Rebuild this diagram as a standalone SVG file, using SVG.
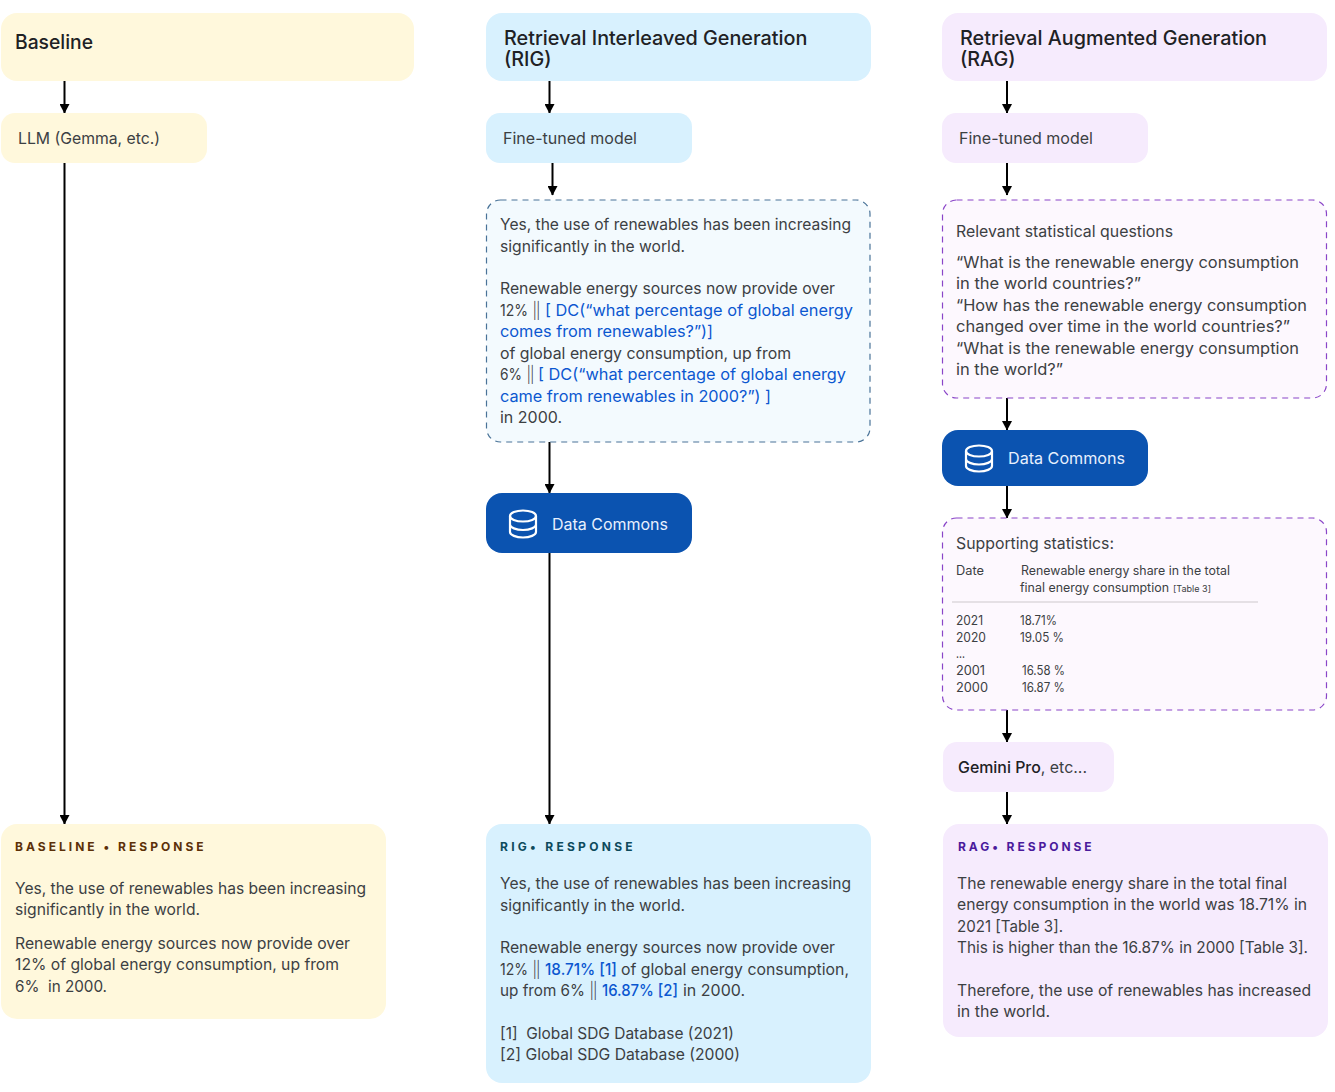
<svg xmlns="http://www.w3.org/2000/svg" width="1335" height="1092" viewBox="0 0 1335 1092">
<style>
text{font-family:"Inter","Noto Sans",sans-serif;fill:#3c4043;font-size:16px}
.h{font-size:19.800px;fill:#202124;font-weight:500}
.b{fill:#0b57d0}
.bb{fill:#0b57d0;font-weight:500}
.w{fill:#e8f0fe}
.s{font-size:12.500px}
.t{font-size:8.500px}
.lab{font-size:12px;font-weight:700;letter-spacing:3.400px}
.y{fill:#fff8dc}.c{fill:#d8f1fe}.p{fill:#f6ebfd}.d{fill:#0b53b0}
.line{stroke:#000;stroke-width:2;fill:none;marker-end:url(#a)}
.ic{fill:none;stroke:#fff;stroke-width:2.200}
</style>
<defs><marker id="a" markerUnits="userSpaceOnUse" markerWidth="10" markerHeight="10" refX="9" refY="5" orient="auto"><path d="M0 0L9.500 5L0 10Z" fill="#000"/></marker></defs>
<rect width="1335" height="1092" fill="#fff"/>
<g id="connectors">
<path class="line" d="M64.500 81V113"/>
<path class="line" d="M64.500 163V824"/>
<path class="line" d="M549.500 81V113"/>
<path class="line" d="M552.500 163V195"/>
<path class="line" d="M549.500 442V493"/>
<path class="line" d="M549.500 553V824"/>
<path class="line" d="M1007 81V113"/>
<path class="line" d="M1007 163V195"/>
<path class="line" d="M1007 398V430"/>
<path class="line" d="M1007 486V518"/>
<path class="line" d="M1007 710V742"/>
<path class="line" d="M1007 792V824"/>
</g>
<g id="baseline-header"><rect class="y" x="1" y="13" width="413" height="68" rx="16"/><text class="h" x="15" y="49" textLength="78" lengthAdjust="spacingAndGlyphs">Baseline</text></g>
<g id="baseline-llm"><rect class="y" x="1" y="113" width="206" height="50" rx="14"/><text x="18" y="144" textLength="142" lengthAdjust="spacingAndGlyphs">LLM (Gemma, etc.)</text></g>
<g id="baseline-response"><rect class="y" x="1" y="824" width="385" height="195" rx="16"/>
<text class="lab" x="15" y="851" style="fill:#5c3008" textLength="192">BASELINE • RESPONSE</text>
<text x="15" y="894" textLength="351" lengthAdjust="spacingAndGlyphs">Yes, the use of renewables has been increasing</text>
<text x="15" y="915" textLength="185" lengthAdjust="spacingAndGlyphs">significantly in the world.</text>
<text x="15" y="949" textLength="335" lengthAdjust="spacingAndGlyphs">Renewable energy sources now provide over</text>
<text x="15" y="970" textLength="324" lengthAdjust="spacingAndGlyphs">12% of global energy consumption, up from</text>
<text x="15" y="992" textLength="92" lengthAdjust="spacingAndGlyphs" xml:space="preserve">6%  in 2000.</text>
</g>
<g id="rig-header"><rect class="c" x="486" y="13" width="385" height="68" rx="16"/><text class="h"><tspan x="504" y="45">Retrieval Interleaved Generation</tspan><tspan x="504" y="66">(RIG)</tspan></text></g>
<g id="rig-model"><rect class="c" x="486" y="113" width="206" height="50" rx="14"/><text x="503" y="144" textLength="134" lengthAdjust="spacingAndGlyphs">Fine-tuned model</text></g>
<g id="rig-draft"><rect x="486.500" y="200" width="383.500" height="242" rx="14" fill="#f3fafe" stroke="#4a7398" stroke-width="1.200" stroke-dasharray="6 5"/>
<text x="500" y="230" textLength="351" lengthAdjust="spacingAndGlyphs">Yes, the use of renewables has been increasing</text>
<text x="500" y="252" textLength="185" lengthAdjust="spacingAndGlyphs">significantly in the world.</text>
<text x="500" y="294" textLength="335" lengthAdjust="spacingAndGlyphs">Renewable energy sources now provide over</text>
<text x="500" y="316" textLength="28" lengthAdjust="spacingAndGlyphs">12%</text><text x="533" y="316" textLength="7" lengthAdjust="spacingAndGlyphs">||</text><text class="b" x="545" y="316" textLength="308" lengthAdjust="spacingAndGlyphs">[ DC(“what percentage of global energy</text>
<text class="b" x="500" y="337" textLength="213" lengthAdjust="spacingAndGlyphs">comes from renewables?”)]</text>
<text x="500" y="359" textLength="291" lengthAdjust="spacingAndGlyphs">of global energy consumption, up from</text>
<text x="500" y="380" textLength="22" lengthAdjust="spacingAndGlyphs">6%</text><text x="527" y="380" textLength="7" lengthAdjust="spacingAndGlyphs">||</text><text class="b" x="538" y="380" textLength="308" lengthAdjust="spacingAndGlyphs">[ DC(“what percentage of global energy</text>
<text class="b" x="500" y="402" textLength="271" lengthAdjust="spacingAndGlyphs">came from renewables in 2000?”) ]</text>
<text x="500" y="423" textLength="62" lengthAdjust="spacingAndGlyphs">in 2000.</text>
</g>
<g id="rig-datacommons"><rect class="d" x="486" y="493" width="206" height="60" rx="16"/>
<g class="ic"><ellipse cx="523" cy="516" rx="13" ry="5.500"/><path d="M510 516V532C510 535 516 537.500 523 537.500S536 535 536 532V516M510 524.500C510 527.500 516 530 523 530S536 527.500 536 524.500"/></g>
<text class="w" x="552" y="530" textLength="116" lengthAdjust="spacingAndGlyphs">Data Commons</text></g>
<g id="rig-response"><rect class="c" x="486" y="824" width="385" height="259" rx="16"/>
<text class="lab" x="500" y="851" style="fill:#0d4a5c" textLength="136">RIG• RESPONSE</text>
<text x="500" y="889" textLength="351" lengthAdjust="spacingAndGlyphs">Yes, the use of renewables has been increasing</text>
<text x="500" y="911" textLength="185" lengthAdjust="spacingAndGlyphs">significantly in the world.</text>
<text x="500" y="953" textLength="335" lengthAdjust="spacingAndGlyphs">Renewable energy sources now provide over</text>
<text x="500" y="975" textLength="28" lengthAdjust="spacingAndGlyphs">12%</text><text x="533" y="975" textLength="7" lengthAdjust="spacingAndGlyphs">||</text><text class="bb" x="545" y="975" textLength="72" lengthAdjust="spacingAndGlyphs">18.71% [1]</text><text x="621" y="975" textLength="228" lengthAdjust="spacingAndGlyphs">of global energy consumption,</text>
<text x="500" y="996" textLength="85" lengthAdjust="spacingAndGlyphs">up from 6%</text><text x="590" y="996" textLength="7" lengthAdjust="spacingAndGlyphs">||</text><text class="bb" x="602" y="996" textLength="76" lengthAdjust="spacingAndGlyphs">16.87% [2]</text><text x="683" y="996" textLength="62" lengthAdjust="spacingAndGlyphs">in 2000.</text>
<text x="500" y="1039" textLength="234" lengthAdjust="spacingAndGlyphs" xml:space="preserve">[1]  Global SDG Database (2021)</text>
<text x="500" y="1060" textLength="240" lengthAdjust="spacingAndGlyphs">[2] Global SDG Database (2000)</text>
</g>
<g id="rag-header"><rect class="p" x="942" y="13" width="385" height="68" rx="16"/><text class="h"><tspan x="960" y="45">Retrieval Augmented Generation</tspan><tspan x="960" y="66">(RAG)</tspan></text></g>
<g id="rag-model"><rect class="p" x="942" y="113" width="206" height="50" rx="14"/><text x="959" y="144" textLength="134" lengthAdjust="spacingAndGlyphs">Fine-tuned model</text></g>
<g id="rag-questions"><rect x="942.500" y="200" width="384" height="198" rx="14" fill="#fdf8fe" stroke="#8a45c8" stroke-width="1.200" stroke-dasharray="6 5"/>
<text x="956" y="237" textLength="217" lengthAdjust="spacingAndGlyphs">Relevant statistical questions</text>
<text x="956" y="268" textLength="343" lengthAdjust="spacingAndGlyphs">“What is the renewable energy consumption</text>
<text x="956" y="289" textLength="185" lengthAdjust="spacingAndGlyphs">in the world countries?”</text>
<text x="956" y="311" textLength="351" lengthAdjust="spacingAndGlyphs">“How has the renewable energy consumption</text>
<text x="956" y="332" textLength="334" lengthAdjust="spacingAndGlyphs">changed over time in the world countries?”</text>
<text x="956" y="354" textLength="343" lengthAdjust="spacingAndGlyphs">“What is the renewable energy consumption</text>
<text x="956" y="375" textLength="107" lengthAdjust="spacingAndGlyphs">in the world?”</text>
</g>
<g id="rag-datacommons"><rect class="d" x="942" y="430" width="206" height="56" rx="16"/>
<g class="ic"><ellipse cx="979" cy="451" rx="13" ry="5.500"/><path d="M966 451V466C966 469 972 471.500 979 471.500S992 469 992 466V451M966 459C966 462 972 464.500 979 464.500S992 462 992 459"/></g>
<text class="w" x="1008" y="464" textLength="117" lengthAdjust="spacingAndGlyphs">Data Commons</text></g>
<g id="rag-statistics"><rect x="942.500" y="518" width="384" height="192" rx="14" fill="#fdf8fe" stroke="#8a45c8" stroke-width="1.200" stroke-dasharray="6 5"/>
<text x="956" y="549" textLength="158" lengthAdjust="spacingAndGlyphs">Supporting statistics:</text>
<text class="s" x="956" y="575" textLength="28" lengthAdjust="spacingAndGlyphs">Date</text>
<text class="s" x="1021" y="575" textLength="209" lengthAdjust="spacingAndGlyphs">Renewable energy share in the total</text>
<text class="s" x="1020" y="592" textLength="149" lengthAdjust="spacingAndGlyphs">final energy consumption</text><text class="t" x="1173" y="592" textLength="38" lengthAdjust="spacingAndGlyphs">[Table 3]</text>
<path d="M952 602H1258" stroke="#dcd8dd" stroke-width="1.300" fill="none"/>
<text class="s" x="956" y="625" textLength="27" lengthAdjust="spacingAndGlyphs">2021</text><text class="s" x="1020" y="625" textLength="37" lengthAdjust="spacingAndGlyphs">18.71%</text>
<text class="s" x="956" y="642" textLength="30" lengthAdjust="spacingAndGlyphs">2020</text><text class="s" x="1020" y="642" textLength="44" lengthAdjust="spacingAndGlyphs">19.05 %</text>
<text class="s" x="956" y="658" textLength="9" lengthAdjust="spacingAndGlyphs">...</text>
<text class="s" x="956" y="675" textLength="29" lengthAdjust="spacingAndGlyphs">2001</text><text class="s" x="1022" y="675" textLength="43" lengthAdjust="spacingAndGlyphs">16.58 %</text>
<text class="s" x="956" y="692" textLength="32" lengthAdjust="spacingAndGlyphs">2000</text><text class="s" x="1022" y="692" textLength="43" lengthAdjust="spacingAndGlyphs">16.87 %</text>
</g>
<g id="rag-gemini"><rect class="p" x="943" y="742" width="171" height="50" rx="14"/><text x="958" y="773" textLength="129" lengthAdjust="spacingAndGlyphs"><tspan style="font-weight:500;fill:#202124">Gemini Pro</tspan>, etc...</text></g>
<g id="rag-response"><rect class="p" x="943" y="824" width="385" height="213" rx="16"/>
<text class="lab" x="958" y="851" style="fill:#4a1a9c" textLength="137">RAG• RESPONSE</text>
<text x="957" y="889" textLength="330" lengthAdjust="spacingAndGlyphs">The renewable energy share in the total final</text>
<text x="957" y="910" textLength="350" lengthAdjust="spacingAndGlyphs">energy consumption in the world was 18.71% in</text>
<text x="957" y="932" textLength="106" lengthAdjust="spacingAndGlyphs">2021 [Table 3].</text>
<text x="957" y="953" textLength="351" lengthAdjust="spacingAndGlyphs">This is higher than the 16.87% in 2000 [Table 3].</text>
<text x="957" y="996" textLength="354" lengthAdjust="spacingAndGlyphs">Therefore, the use of renewables has increased</text>
<text x="957" y="1017" textLength="93" lengthAdjust="spacingAndGlyphs">in the world.</text>
</g>
</svg>
